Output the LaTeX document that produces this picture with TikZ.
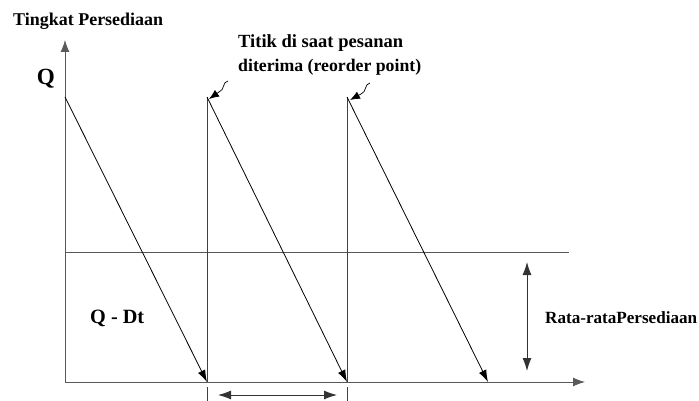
\documentclass[tikz,border=0pt]{standalone}
\usepackage{fontspec}
\setmainfont{Liberation Serif}
\usetikzlibrary{arrows.meta}
\begin{document}
\begin{tikzpicture}[x=1pt,y=-1pt,
  lbl/.style={inner sep=0pt,font=\fontsize{17.5}{24}\selectfont\bfseries},
  biglbl/.style={inner sep=0pt,font=\fontsize{20.5}{24}\selectfont\bfseries},
  axis/.style={draw=black!65,line width=0.9pt,-{Latex[length=12pt,width=9pt]}},
  level/.style={draw=black!65,line width=0.9pt},
  saw/.style={draw=black,line width=0.8pt,-{Latex[length=12pt,width=8pt]}},
  riser/.style={draw=black!75,line width=0.8pt},
  dim/.style={draw=black!80,line width=0.9pt,{Latex[length=13pt,width=9pt]}-{Latex[length=13pt,width=9pt]}},
  pointer/.style={draw=black,line width=0.7pt,-{Latex[length=10pt,width=8pt]}}]
\useasboundingbox (0,0) rectangle (699,401);
% coordinates
\coordinate (O) at (65,382);
\coordinate (ytop) at (65,40);
\coordinate (xend) at (585,382);
\coordinate (p1) at (65,97);
\coordinate (b1) at (207,382);
\coordinate (p2) at (207,97);
\coordinate (b2) at (347,382);
\coordinate (p3) at (347,97);
\coordinate (b3) at (488,382);
\coordinate (t1a) at (207,387);
\coordinate (t1b) at (207,401);
\coordinate (t2a) at (347,387);
\coordinate (t2b) at (347,401);
\coordinate (la) at (65,252);
\coordinate (lb) at (569,252);
\coordinate (va) at (527,262);
\coordinate (vb) at (527,371);
\coordinate (ha) at (218,395);
\coordinate (hb) at (337,395);
\coordinate (s1a) at (228,81);
\coordinate (s1b) at (209,99);
\coordinate (s2a) at (370,83);
\coordinate (s2b) at (350,100);
% axes
\draw[axis] (O) -- (ytop);
\draw[axis] (O) -- (xend);
% average level
\draw[level] (la) -- (lb);
% sawtooth
\draw[saw] (p1) -- (b1);
\draw[riser] (b1) -- (p2);
\draw[saw] (p2) -- (b2);
\draw[riser] (b2) -- (p3);
\draw[saw] (p3) -- (b3);
% ticks
\draw[riser] (t1a) -- (t1b);
\draw[riser] (t2a) -- (t2b);
% dimension arrows
\draw[dim] (va) -- (vb);
\draw[dim] (ha) -- (hb);
% pointers
\draw[pointer] (s1a) .. controls (222,82) and (225,90) .. (219,92) -- (s1b);
\draw[pointer] (s2a) .. controls (364,84) and (367,92) .. (361,94) -- (s2b);
% labels
\node[lbl,anchor=base west] (title) at (13,26) {\resizebox{150pt}{!}{Tingkat Persediaan}};
\node[biglbl,anchor=base] (q) at (46,85) {\resizebox{18pt}{!}{Q}};
\node[lbl,anchor=base west] (reorder) at (238,48) {\resizebox{165pt}{!}{Titik di saat pesanan}};
\node[lbl,anchor=base west] (reorder2) at (238,72) {\resizebox{183pt}{!}{diterima (reorder point)}};
\node[biglbl,anchor=base west] (qdt) at (90,323) {\resizebox{54pt}{!}{Q - Dt}};
\node[lbl,anchor=base west] (avg) at (545,323) {\resizebox{152pt}{!}{Rata-rataPersediaan}};
\end{tikzpicture}
\end{document}
